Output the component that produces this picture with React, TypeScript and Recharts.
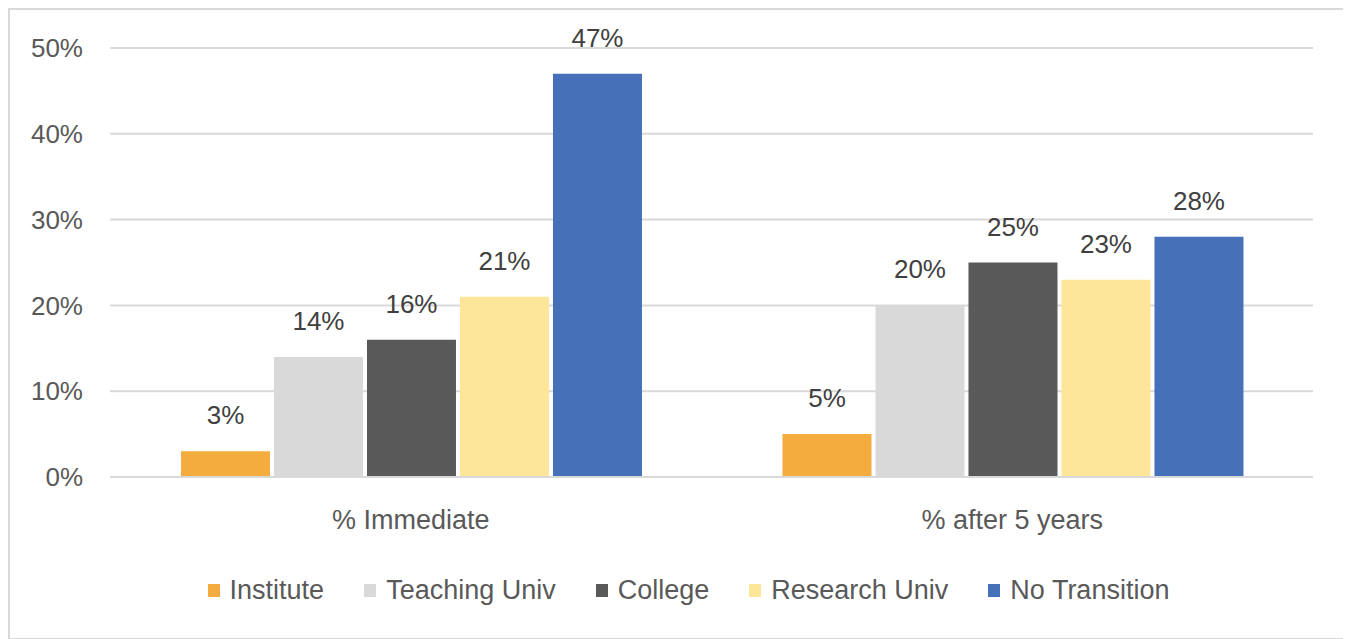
import React from "react";
import { BarChart, Bar, XAxis, YAxis, CartesianGrid, Legend, LabelList } from "recharts";

const categories = ["% Immediate", "% after 5 years"];
const institute = [3, 5];
const teachingUniv = [14, 20];
const college = [16, 25];
const researchUniv = [21, 23];
const noTransition = [47, 28];
const yTicks = [0, 10, 20, 30, 40, 50];

const seriesDefs = [
  { key: "Institute", values: institute, color: "#F4AC3E" },
  { key: "Teaching Univ", values: teachingUniv, color: "#D9D9D9" },
  { key: "College", values: college, color: "#595959" },
  { key: "Research Univ", values: researchUniv, color: "#FDE699" },
  { key: "No Transition", values: noTransition, color: "#4671B8" },
];

const data = categories.map((c, i) => {
  const row: any = { name: c };
  seriesDefs.forEach((s) => (row[s.key] = s.values[i]));
  return row;
});

const FONT = "'Liberation Sans', Arial, sans-serif";
const TEXT = "#595959";

const renderLegend = () => (
  <div style={{ display: "flex", justifyContent: "center", alignItems: "center", fontFamily: FONT, fontSize: 27, color: TEXT, height: 40, paddingLeft: 54 }}>
    {seriesDefs.map((s) => (
      <div key={s.key} style={{ display: "flex", alignItems: "center", margin: "0 20px" }}>
        <div style={{ width: 12, height: 13, background: s.color, marginRight: 10 }} />
        <span>{s.key}</span>
      </div>
    ))}
  </div>
);

export default function App() {
  return (
    <div style={{ width: 1340, height: 632, border: "2px solid #d9d9d9", boxSizing: "border-box", background: "#fff" }}>
      <BarChart
        width={1336}
        height={628}
        data={data}
        margin={{ top: 38, right: 33, bottom: 0, left: 0 }}
        barCategoryGap="11.8%"
        barGap={4}
      >
        <CartesianGrid vertical={false} stroke="#d9d9d9" strokeWidth={2} />
        <XAxis
          dataKey="name"
          axisLine={{ stroke: "#d9d9d9", strokeWidth: 2 }}
          tickLine={false}
          tickSize={0}
          tickMargin={33}
          height={121}
          tick={{ fill: TEXT, fontSize: 27, fontFamily: FONT }}
        />
        <YAxis
          domain={[0, 50]}
          ticks={yTicks}
          axisLine={false}
          tickLine={false}
          tickSize={0}
          tickMargin={27}
          width={100}
          tickFormatter={(v) => `${v}%`}
          tick={{ fill: TEXT, fontSize: 26, fontFamily: FONT }}
        />
        <Legend content={renderLegend} verticalAlign="bottom" wrapperStyle={{ bottom: 28 }} />
        {seriesDefs.map((s) => (
          <Bar key={s.key} dataKey={s.key} fill={s.color} isAnimationActive={false}>
            <LabelList
              dataKey={s.key}
              position="top"
              offset={27}
              formatter={(v: any) => `${v}%`}
              style={{ fill: "#404040", fontSize: 26, fontFamily: FONT }}
            />
          </Bar>
        ))}
      </BarChart>
    </div>
  );
}
